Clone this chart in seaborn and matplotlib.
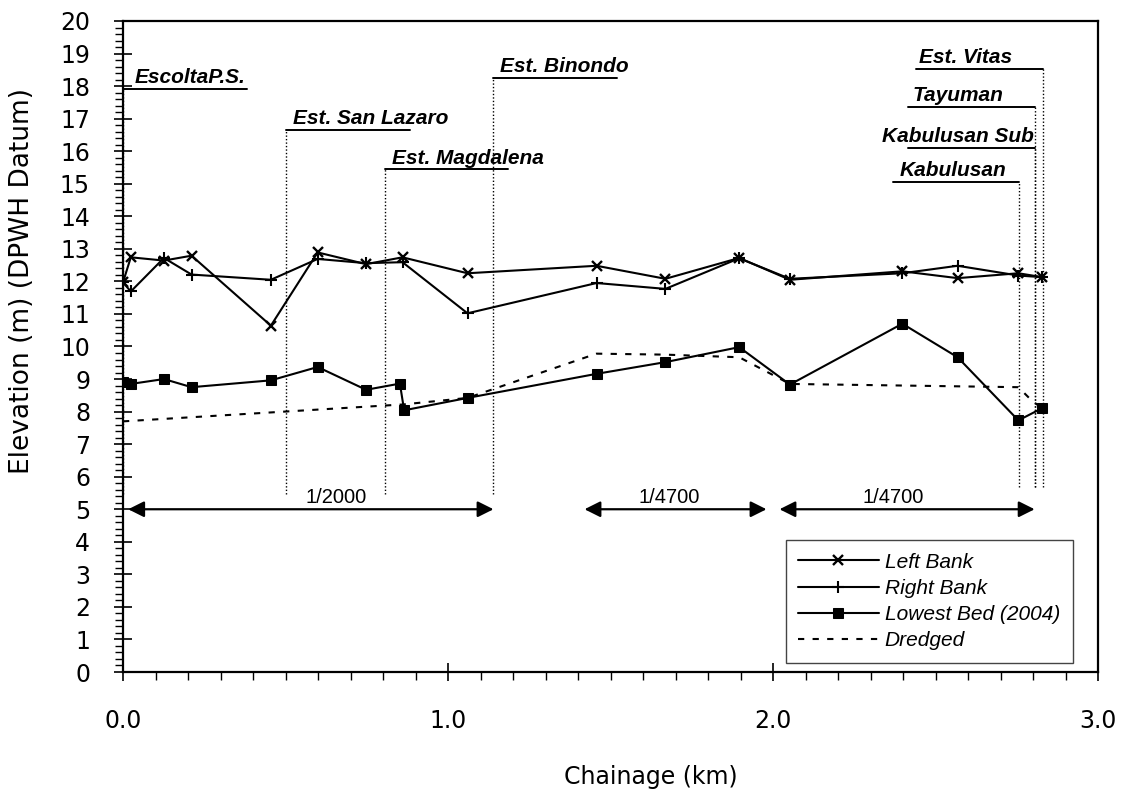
import matplotlib
matplotlib.use('Agg')
import matplotlib.pyplot as plt
from matplotlib.ticker import MultipleLocator, FormatStrFormatter
import seaborn as sns

sns.set_style('ticks')
plt.rcParams['font.family'] = ['DejaVu Sans']
plt.rcParams.update({'text.color': 'black', 'axes.labelcolor': 'black',
                     'xtick.color': 'black', 'ytick.color': 'black'})

# Bank levels along the river (km, m DPWH datum)
chainage_bank = [0.0, 0.024, 0.126, 0.211, 0.455, 0.599, 0.748, 0.86, 1.06,
                 1.457, 1.669, 1.896, 2.052, 2.398, 2.568, 2.755, 2.829]
left_bank = [11.97, 12.74, 12.64, 12.79, 10.64, 12.89, 12.53, 12.74, 12.25,
             12.48, 12.08, 12.72, 12.05, 12.31, 12.10, 12.25, 12.13]
right_bank = [11.97, 11.69, 12.72, 12.21, 12.05, 12.69, 12.56, 12.59, 11.02,
              11.95, 11.77, 12.71, 12.08, 12.25, 12.48, 12.18, 12.13]

# Lowest bed survey 2004
chainage_bed = [0.0, 0.024, 0.126, 0.211, 0.455, 0.599, 0.748, 0.852, 0.865,
                1.06, 1.457, 1.669, 1.896, 2.052, 2.398, 2.568, 2.755, 2.829]
lowest_bed = [8.9, 8.85, 9.0, 8.75, 8.96, 9.37, 8.67, 8.86, 8.04,
              8.42, 9.16, 9.52, 9.98, 8.83, 10.7, 9.67, 7.73, 8.11]

# Dredged profile
chainage_dredged = [0.0, 0.862, 1.06, 1.457, 1.669, 1.896, 2.052, 2.755, 2.80, 2.829]
dredged = [7.7, 8.22, 8.42, 9.78, 9.75, 9.67, 8.85, 8.75, 8.3, 8.11]

# Outfalls / pumping stations
station_names = ['EscoltaP.S.', 'Est. San Lazaro', 'Est. Magdalena', 'Est. Binondo',
                 'Kabulusan', 'Kabulusan Sub', 'Tayuman', 'Est. Vitas']
station_km = [0.0, 0.502, 0.806, 1.14, 2.758, 2.805, 2.805, 2.83]

# Bed slope sections
slope_labels = ['1/2000', '1/4700', '1/4700']
slope_start = [0.016, 1.42, 2.02]
slope_end = [1.14, 1.98, 2.805]

fig = plt.figure(figsize=(11.21, 7.94), dpi=100)
ax = fig.add_axes([123 / 1121, 1 - 672 / 794, 975 / 1121, 651 / 794])

line_kw = dict(color='black', linewidth=1.5, estimator=None, ax=ax)
sns.lineplot(x=chainage_bank, y=left_bank, marker='x', markersize=7,
             markeredgewidth=1.7, markeredgecolor='black', label='Left Bank', **line_kw)
sns.lineplot(x=chainage_bank, y=right_bank, marker='+', markersize=9,
             markeredgewidth=1.5, markeredgecolor='black', label='Right Bank', **line_kw)
sns.lineplot(x=chainage_bed, y=lowest_bed, marker='s', markersize=6.5,
             markeredgecolor='black', label='Lowest Bed (2004)', **line_kw)
sns.lineplot(x=chainage_dredged, y=dredged, linestyle=(0, (3, 4)),
             label='Dredged', **line_kw)

# station markers: dotted drop line + underlined tag
tag_elev = [17.92, 16.65, 15.44, 18.24, 15.06, 16.09, 17.37, 18.54]
text_x = [0.035, 0.524, 0.829, 1.16, 2.391, 2.334, 2.43, 2.449]
for i, (name, km) in enumerate(zip(station_names, station_km)):
    right_side = km < 2.0
    bottom = 5.46 if right_side else 5.68
    ax.plot([km, km], [bottom, tag_elev[i]], color='black', linewidth=1,
            linestyle=(0, (1, 1.5)))
    x0, x1 = (km, km + 0.38) if right_side else (km - 0.39, km)
    ax.plot([x0, x1], [tag_elev[i]] * 2, color='black', linewidth=1.4)
    ax.text(text_x[i], tag_elev[i] + 0.18, name, family='Liberation Sans',
            weight='bold', style='italic', fontsize=15, va='baseline')

slope_text_x = [0.657, 1.68, 2.37]
for lab, s, e, tx in zip(slope_labels, slope_start, slope_end, slope_text_x):
    ax.annotate('', xy=(s, 5), xytext=(e, 5),
                arrowprops=dict(arrowstyle='<|-|>', color='black', lw=1.6,
                                mutation_scale=24, shrinkA=0, shrinkB=0))
    ax.text(tx, 5.2, lab, family='Liberation Sans', fontsize=14.5,
            ha='center', va='baseline')

ax.set_xlim(0, 3)
ax.set_ylim(0, 20)
ax.xaxis.set_major_locator(MultipleLocator(1.0))
ax.xaxis.set_minor_locator(MultipleLocator(0.1))
ax.xaxis.set_major_formatter(FormatStrFormatter('%.1f'))
ax.yaxis.set_major_locator(MultipleLocator(1))
ax.yaxis.set_minor_locator(MultipleLocator(0.2))

ax.tick_params(which='major', direction='inout', length=13.5, width=1.2,
               labelsize=17)
ax.tick_params(which='minor', direction='out', length=6, width=1)
ax.tick_params(axis='x', which='major', pad=20)
ax.tick_params(axis='y', which='major', pad=17)
for sp in ax.spines.values():
    sp.set_color('black')
    sp.set_linewidth(1.6)

ax.set_xlabel('Chainage (km)', fontsize=17, va='top')
ax.xaxis.set_label_coords(0.5415, -0.143)
ax.set_ylabel('Elevation (m) (DPWH Datum)', fontsize=19)
ax.yaxis.set_label_coords(-0.09, 0.60)

leg = ax.legend(loc='lower right', bbox_to_anchor=(0.974, 0.014), borderaxespad=0,
                frameon=True, fancybox=False, edgecolor='#444', framealpha=1,
                prop=dict(family='Liberation Sans', style='italic', size=15),
                handlelength=3.85, handletextpad=0.3, labelspacing=0.35,
                borderpad=0.6)
leg.get_frame().set_linewidth(1)

fig.savefig('out.png', dpi=100)
